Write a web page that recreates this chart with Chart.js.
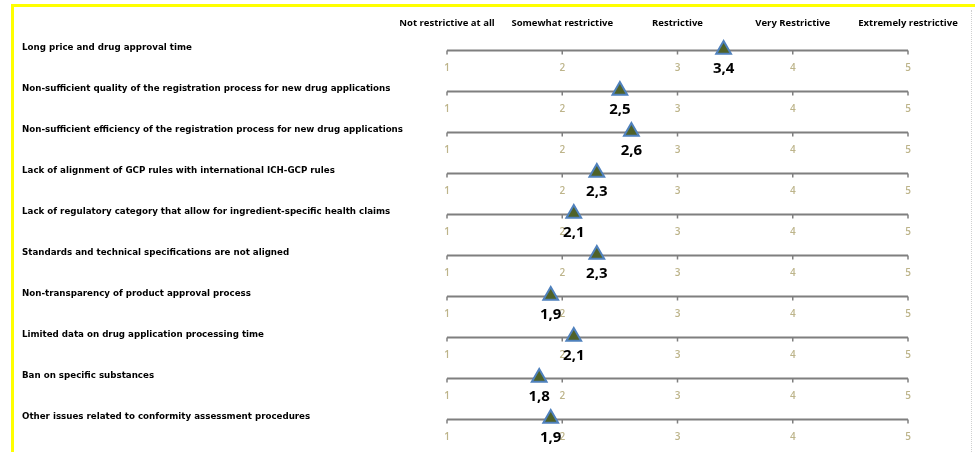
<!DOCTYPE html>
<html>
<head>
<meta charset="utf-8">
<script src="https://cdn.jsdelivr.net/npm/chart.js@4.4.1/dist/chart.umd.min.js"></script>
<style>
  html, body { margin: 0; padding: 0; background: #fff; }
  #wrap { position: relative; width: 975px; height: 452px; overflow: hidden; }
  #frameTop { position: absolute; left: 11px; top: 4px; width: 964px; height: 3px; background: #ffff00; }
  #frameLeft { position: absolute; left: 11px; top: 4px; width: 3px; height: 448px; background: #ffff00; }
  #frameRight { position: absolute; left: 971px; top: 10px; height: 442px; border-left: 1px dotted #d0d0d0; }
  canvas { position: absolute; left: 0; top: 0; }
</style>
</head>
<body>
<div id="wrap">
  <canvas id="restrictChart" width="975" height="452"></canvas>
  <div id="frameTop"></div>
  <div id="frameLeft"></div>
  <div id="frameRight"></div>
</div>
<script>
// 各項目（行）
const issues = [
  "Long price and drug approval time",
  "Non-sufficient quality of the registration process for new drug applications",
  "Non-sufficient efficiency of the registration process for new drug applications",
  "Lack of alignment of GCP rules with international ICH-GCP rules",
  "Lack of regulatory category that allow for ingredient-specific health claims",
  "Standards and technical specifications are not aligned",
  "Non-transparency of product approval process",
  "Limited data on drug application processing time",
  "Ban on specific substances",
  "Other issues related to conformity assessment procedures",
];

// 平均スコア
const scores = [3.4, 2.5, 2.6, 2.3, 2.1, 2.3, 1.9, 2.1, 1.8, 1.9];

// 目盛り
const scaleTicks = [1, 2, 3, 4, 5];

// 見出し（目盛りごと）
const levelLabels = [
  "Not restrictive at all",
  "Somewhat restrictive",
  "Restrictive",
  "Very Restrictive",
  "Extremely restrictive",
];

const tickColor = "#bdb48a";
const railColor = "#7f7f7f";

// 行ごとの目盛り線を描くプラグイン
const railPlugin = {
  id: "rails",
  beforeDatasetsDraw(chart) {
    const { ctx } = chart;
    const xs = chart.scales.x;
    const ys = chart.scales.y;
    const x0 = xs.getPixelForValue(scaleTicks[0]);
    const x1 = xs.getPixelForValue(scaleTicks[scaleTicks.length - 1]);
    ctx.save();
    issues.forEach((_, i) => {
      const yy = Math.round(ys.getPixelForValue(i)) + 0.5;
      ctx.strokeStyle = railColor;
      ctx.lineWidth = 2;
      ctx.beginPath();
      ctx.moveTo(x0, yy);
      ctx.lineTo(x1, yy);
      ctx.stroke();
      ctx.lineWidth = 1.5;
      scaleTicks.forEach((t) => {
        const px = xs.getPixelForValue(t);
        ctx.beginPath();
        ctx.moveTo(px, yy);
        ctx.lineTo(px, yy + 4);
        ctx.stroke();
      });
      ctx.fillStyle = tickColor;
      ctx.font = "600 10px 'Open Sans'";
      ctx.textAlign = "center";
      ctx.textBaseline = "middle";
      scaleTicks.forEach((t) => {
        ctx.fillText(String(t), xs.getPixelForValue(t), yy + 18);
      });
    });
    ctx.restore();
  },
  afterDatasetsDraw(chart) {
    const { ctx } = chart;
    const meta = chart.getDatasetMeta(0);
    ctx.save();
    ctx.fillStyle = "#000";
    ctx.font = "bold 15px 'Open Sans'";
    ctx.textAlign = "center";
    ctx.textBaseline = "middle";
    meta.data.forEach((pt, i) => {
      const label = scores[i].toFixed(1).replace(".", ",");
      ctx.fillText(label, pt.x, pt.y + 19);
    });
    ctx.restore();
  },
};

const chartConfig = {
  type: "scatter",
  data: {
    datasets: [
      {
        label: "score",
        data: scores.map((v, i) => ({ x: v, y: issues[i] })),
        pointStyle: "triangle",
        pointRadius: 8.5,
        pointHoverRadius: 8.5,
        backgroundColor: "#4f6228",
        borderColor: "#4f81bd",
        borderWidth: 2,
        clip: false,
      },
    ],
  },
  options: {
    responsive: false,
    devicePixelRatio: 1,
    animation: false,
    layout: {
      padding: { top: 10, left: 22, right: 67, bottom: 13 },
    },
    scales: {
      x: {
        type: "linear",
        min: 1,
        max: 5,
        display: false,
      },
      xTop: {
        type: "linear",
        position: "top",
        min: 1,
        max: 5,
        grid: { display: false, drawTicks: false },
        border: { display: false },
        ticks: {
          stepSize: 1,
          padding: 0,
          maxRotation: 0,
          autoSkip: false,
          color: "#000",
          font: { family: "'Open Sans'", weight: "bold", size: 9.5 },
          callback: (v) => levelLabels[v - 1],
        },
        afterFit: (scale) => {
          scale.height = 19;
        },
      },
      y: {
        type: "category",
        labels: issues,
        offset: true,
        grid: { display: false, drawTicks: false },
        border: { display: false },
        ticks: {
          crossAlign: "far",
          padding: 0,
          labelOffset: -2,
          autoSkip: false,
          color: "#000",
          font: { family: "DejaVu Sans", weight: "bold", size: 8.7 },
        },
        afterFit: (scale) => {
          scale.width = 425;
        },
      },
    },
    plugins: {
      legend: { display: false },
      title: { display: false },
      tooltip: { enabled: false },
    },
  },
  plugins: [railPlugin],
};

new Chart(document.getElementById("restrictChart"), chartConfig);
</script>
</body>
</html>
